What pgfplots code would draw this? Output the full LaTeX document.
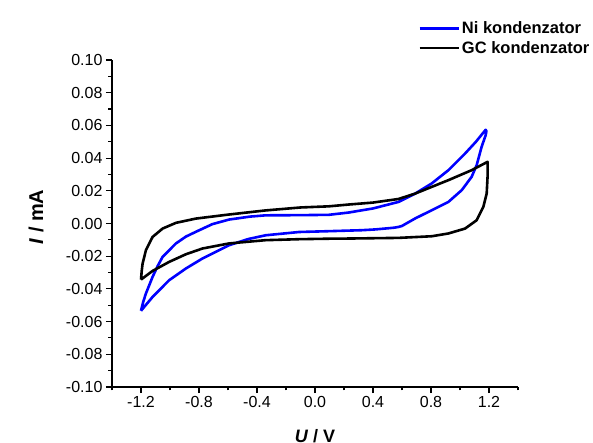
\documentclass[border=0pt]{standalone}
\usepackage{pgfplots}
\pgfplotsset{compat=1.18}
\usepackage{fontspec}
\setmainfont{Liberation Sans}
\definecolor{niblue}{RGB}{0,0,255}
\begin{document}
\begin{tikzpicture}[x=1pt,y=1pt]
\useasboundingbox (-112,-56) rectangle (481,387);
\begin{axis}[at={(0,0)}, anchor=south west, scale only axis, width=406pt, height=327pt,
 xmin=-1.4, xmax=1.4, ymin=-0.1, ymax=0.1,
 axis lines=left, axis line style={-, line width=1.3pt},
 every tick/.style={black, line width=1.1pt},
 tick align=outside, major tick length=6pt, minor tick length=3.5pt,
 xtick={-1.2,-0.8,-0.4,0,0.4,0.8,1.2},
 minor xtick={-1.4,-1.0,-0.6,-0.2,0.2,0.6,1.0,1.4},
 ytick={-0.1,-0.08,-0.06,-0.04,-0.02,0,0.02,0.04,0.06,0.08,0.1},
 minor ytick={-0.09,-0.07,-0.05,-0.03,-0.01,0.01,0.03,0.05,0.07,0.09},
 scaled ticks=false,
 /pgf/number format/assume math mode=true,
 xticklabel style={/pgf/number format/.cd, fixed, fixed zerofill, precision=1},
 yticklabel style={/pgf/number format/.cd, fixed, fixed zerofill, precision=2},
 tick label style={font=\fontsize{16}{19}\selectfont},
 xlabel={\textit{U} / V},
 ylabel={\textit{I} / mA},
 xlabel style={font=\bfseries\fontsize{18}{22}\selectfont, at={(0.5,0)}, anchor=north, inner sep=0pt, yshift=-42pt},
 ylabel style={font=\bfseries\fontsize{20}{24}\selectfont, at={(0,0.52)}, anchor=center, yshift=76pt},
 legend style={at={(0.754,1.123)}, anchor=north west, draw=none, fill=none,
   font=\bfseries\fontsize{16.5}{19}\selectfont, inner sep=0pt, row sep=2pt},
 legend cell align=left,
 legend image code/.code={\draw[#1,line width=2.6pt] (0pt,0pt) -- (39pt,0pt);},
 clip=false,
]
\addplot[niblue, line width=2.6pt, line join=round] coordinates {
(-1.200,-0.0534) (-1.185,-0.0480) (-1.166,-0.0428) (-1.120,-0.0326) (-1.085,-0.0260) (-1.051,-0.0204)
(-0.959,-0.0122) (-0.890,-0.0080) (-0.822,-0.0051) (-0.708,-0.0004) (-0.593,0.0024) (-0.450,0.0042)
(-0.340,0.0050) (-0.110,0.0051) (0.095,0.0053) (0.232,0.0067) (0.400,0.0092) (0.576,0.0132)
(0.691,0.0183) (0.805,0.0245) (0.920,0.0326) (1.035,0.0428) (1.110,0.0500) (1.160,0.0555)
(1.177,0.0573) (1.182,0.0565) (1.177,0.0540) (1.149,0.0469) (1.115,0.0357) (1.080,0.0285)
(1.012,0.0204) (0.920,0.0132) (0.805,0.0081) (0.691,0.0031) (0.600,-0.0015) (0.576,-0.0021)
(0.550,-0.0025) (0.530,-0.0027) (0.420,-0.0036) (0.324,-0.0041) (0.095,-0.0047) (-0.110,-0.0052)
(-0.340,-0.0072) (-0.460,-0.0095) (-0.593,-0.0133) (-0.776,-0.0214) (-0.890,-0.0275) (-1.006,-0.0347)
(-1.120,-0.0449) (-1.200,-0.0534)
};
\addlegendentry{Ni kondenzator}
\addplot[black, line width=2.6pt, line join=round] coordinates {
(-1.200,-0.0343) (-1.195,-0.0290) (-1.189,-0.0245) (-1.166,-0.0163) (-1.120,-0.0082) (-1.051,-0.0031)
(-0.959,0.0004) (-0.822,0.0030) (-0.593,0.0055) (-0.340,0.0080) (-0.100,0.0098) (0.095,0.0105)
(0.232,0.0116) (0.400,0.0128) (0.576,0.0150) (0.691,0.0183) (0.805,0.0224) (0.920,0.0265)
(1.080,0.0326) (1.190,0.0377) (1.191,0.0330) (1.190,0.0285) (1.184,0.0183) (1.161,0.0102)
(1.115,0.0020) (1.035,-0.0031) (0.920,-0.0061) (0.805,-0.0078) (0.576,-0.0088) (0.232,-0.0092)
(0.095,-0.0093) (-0.110,-0.0096) (-0.340,-0.0102) (-0.593,-0.0122) (-0.776,-0.0153) (-0.890,-0.0188)
(-1.006,-0.0235) (-1.120,-0.0290) (-1.200,-0.0343)
};
\addlegendentry{GC kondenzator}
\end{axis}
\end{tikzpicture}
\end{document}
